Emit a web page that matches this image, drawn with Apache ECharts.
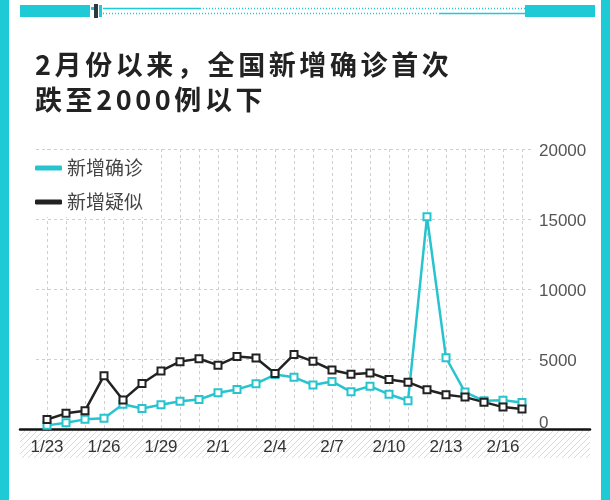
<!DOCTYPE html>
<html>
<head>
<meta charset="utf-8">
<script src="https://cdn.jsdelivr.net/npm/echarts@6/dist/echarts.min.js"></script>
<style>
html,body{margin:0;padding:0;background:#fff;}
#chart{width:610px;height:500px;}
</style>
</head>
<body>
<div id="chart"></div>
<script>
const dates = ['1/23','1/24','1/25','1/26','1/27','1/28','1/29','1/30','1/31','2/1','2/2','2/3','2/4','2/5','2/6','2/7','2/8','2/9','2/10','2/11','2/12','2/13','2/14','2/15','2/16','2/17'];
const confirmed = [259,444,688,769,1771,1459,1737,1982,2102,2590,2829,3235,3887,3694,3143,3399,2656,3062,2478,2015,15152,5090,2641,2009,2048,1886];
const suspected = [680,1118,1309,3806,2077,3248,4148,4812,5019,4562,5173,5072,3971,5328,4833,4214,3916,4008,3536,3342,2807,2450,2277,1918,1563,1432];
const yMin = 0, yMax = 20000, yStep = 5000;
const titleLines = ['2月份以来，全国新增确诊首次', '跌至2000例以下'];
const seriesNames = ['新增确诊', '新增疑似'];

const CYAN = '#27c4cf';
const FRAME = '#1ecad5';
const DARK = '#222222';
const FONT = '"Noto Sans CJK SC", "Noto Sans", sans-serif';

function spaced(line){
  return Array.from(line).map(ch => '{a|' + ch + '}').join('');
}

// hatch pattern
const pc = document.createElement('canvas');
pc.width = 6; pc.height = 6;
const pctx = pc.getContext('2d');
pctx.fillStyle = '#ffffff'; pctx.fillRect(0,0,6,6);
pctx.strokeStyle = '#d9d9d9'; pctx.lineWidth = 1;
pctx.beginPath();
pctx.moveTo(0,6); pctx.lineTo(6,0);
pctx.moveTo(-3,3); pctx.lineTo(3,-3);
pctx.moveTo(3,9); pctx.lineTo(9,3);
pctx.stroke();

const chart = echarts.init(document.getElementById('chart'), null, {renderer:'canvas'});
const dashed = {type:[3,3], color:'#cfcfcf', width:1};

chart.setOption({
  animation:false,
  backgroundColor:'#fff',
  title:{
    text: titleLines.map(spaced).join('\n'),
    left:35, top:47, padding:0,
    textStyle:{
      rich:{a:{fontSize:27, fontWeight:'bold', color:'#222', fontFamily:FONT, padding:[0,3.6,0,0], lineHeight:35}}
    }
  },
  legend:{
    orient:'vertical', left:35, top:150,
    padding:[8,12,5,0], itemGap:14,
    backgroundColor:'#fff',
    itemWidth:27, itemHeight:5,
    textStyle:{fontSize:19, color:'#444', fontFamily:FONT, lineHeight:20},
    data:[
      {name:seriesNames[0], icon:'roundRect', itemStyle:{color:CYAN, borderWidth:0}},
      {name:seriesNames[1], icon:'roundRect', itemStyle:{color:DARK, borderWidth:0}}
    ]
  },
  grid:[
    {left:36, right:78, top:149, bottom:71},
    {left:47, right:88, top:149, bottom:71},
    {left:20, right:20, top:149, bottom:71}
  ],
  xAxis:[
    {gridIndex:0, type:'value', min:0, max:1, show:false},
    {gridIndex:1, type:'category', data:dates, boundaryGap:false,
      axisLine:{show:false}, axisTick:{show:false},
      axisLabel:{interval:2, margin:10, fontSize:17, color:'#333', fontFamily:'"Liberation Sans", sans-serif'},
      splitLine:{show:true, interval:0, lineStyle:dashed}
    },
    {gridIndex:2, type:'value', min:0, max:1,
      axisLine:{show:true, onZero:false, lineStyle:{color:'#111', width:2.5}},
      axisTick:{show:false}, axisLabel:{show:false}, splitLine:{show:false}
    }
  ],
  yAxis:[
    {gridIndex:0, type:'value', min:yMin, max:yMax, interval:yStep, position:'right',
      axisLine:{show:false}, axisTick:{show:false},
      splitLine:{show:true, lineStyle:dashed},
      axisLabel:{margin:7, align:'left',
        formatter: v => v === 0 ? '{z|0}' : '{n|' + v + '}',
        rich:{
          z:{fontSize:17, color:'#555', fontFamily:'"Liberation Sans", sans-serif', padding:[0,0,12,0]},
          n:{fontSize:17, color:'#555', fontFamily:'"Liberation Sans", sans-serif', padding:[4,0,0,0]}
        }
      }
    },
    {gridIndex:1, type:'value', min:yMin, max:yMax, show:false, splitLine:{show:false}},
    {gridIndex:2, type:'value', min:0, max:1, show:false, splitLine:{show:false}}
  ],
  series:[
    {name:seriesNames[0], type:'line', xAxisIndex:1, yAxisIndex:1, data:confirmed,
      color:CYAN, symbol:'emptyRect', symbolSize:7, showAllSymbol:true,
      lineStyle:{width:2.5, color:CYAN}, itemStyle:{color:CYAN, borderWidth:1.6}},
    {name:seriesNames[1], type:'line', xAxisIndex:1, yAxisIndex:1, data:suspected,
      color:DARK, symbol:'emptyRect', symbolSize:7, showAllSymbol:true,
      lineStyle:{width:2.5, color:DARK}, itemStyle:{color:DARK, borderWidth:1.6}}
  ],
  graphic:[
    {type:'rect', shape:{x:20, y:431, width:570, height:27}, style:{fill:{image:pc, repeat:'repeat'}}, z:-1, silent:true},
    {type:'rect', shape:{x:0, y:0, width:9, height:500}, style:{fill:FRAME}, silent:true},
    {type:'rect', shape:{x:601, y:0, width:9, height:500}, style:{fill:FRAME}, silent:true},
    {type:'rect', shape:{x:20, y:5, width:70, height:12}, style:{fill:FRAME}, silent:true},
    {type:'rect', shape:{x:525, y:5, width:70, height:12}, style:{fill:FRAME}, silent:true},
    {type:'rect', shape:{x:94, y:4, width:4, height:14}, style:{fill:'#2a3a40'}, silent:true},
    {type:'rect', shape:{x:91, y:7, width:3, height:3}, style:{fill:FRAME}, silent:true},
    {type:'rect', shape:{x:99, y:5, width:3, height:12}, style:{fill:FRAME}, silent:true},
    {type:'line', shape:{x1:103, y1:8.5, x2:200, y2:8.5}, style:{stroke:FRAME, lineWidth:1.5}, silent:true},
    {type:'line', shape:{x1:200, y1:8.5, x2:525, y2:8.5}, style:{stroke:FRAME, lineWidth:1.5, lineDash:[1,2]}, silent:true},
    {type:'line', shape:{x1:103, y1:13.5, x2:440, y2:13.5}, style:{stroke:FRAME, lineWidth:1.5, lineDash:[1,2]}, silent:true},
    {type:'line', shape:{x1:440, y1:13.5, x2:525, y2:13.5}, style:{stroke:FRAME, lineWidth:1.5}, silent:true}
  ]
});
</script>
</body>
</html>
